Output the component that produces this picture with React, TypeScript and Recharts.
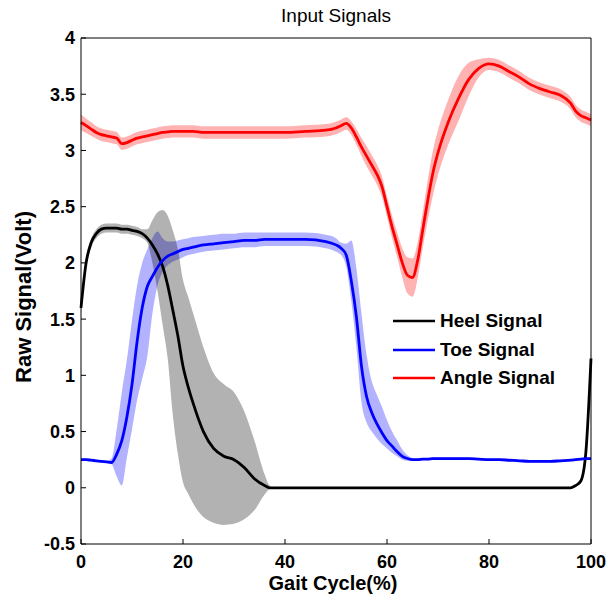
import React from "react";
import { ComposedChart, Area, Line, XAxis, YAxis, Legend } from "recharts";

// gait cycle sample points (%)
const gaitPct = [
  0, 1, 2, 3, 4, 5, 6, 7, 8, 9, 10, 11, 12, 13, 14, 15, 16, 17, 18, 19, 20, 21, 22,
  24, 26, 28, 30, 32, 34, 36,
  37, 38, 40, 44, 48, 50,
  51, 52, 53, 54, 55, 56, 57, 58, 59, 60, 61, 62, 63, 64, 65, 66, 67, 68, 69, 70,
  72, 74, 76, 78, 80, 82, 84, 86, 88, 90, 92, 94,
  96, 97, 98, 99, 100,
];

const heelMean = [
  1.6, 2.0, 2.18, 2.26, 2.3, 2.31, 2.31, 2.31, 2.3, 2.3, 2.29, 2.28, 2.26, 2.22, 2.16, 2.08, 1.97, 1.8, 1.58, 1.35, 1.08, 0.9, 0.75,
  0.5, 0.35, 0.28, 0.25, 0.18, 0.08, 0.02,
  0, 0, 0, 0, 0, 0,
  0, 0, 0, 0, 0, 0, 0, 0, 0, 0, 0, 0, 0, 0, 0, 0, 0, 0, 0, 0,
  0, 0, 0, 0, 0, 0, 0, 0, 0, 0, 0, 0,
  0, 0.02, 0.06, 0.32, 1.15,
];
const heelLo = [
  1.55, 1.95, 2.14, 2.22, 2.26, 2.27, 2.27, 2.27, 2.26, 2.26, 2.25, 2.24, 2.22, 2.18, 2.0, 1.75, 1.45, 1.15, 0.65, 0.3, 0.05, -0.05, -0.14,
  -0.26, -0.31, -0.33, -0.32, -0.28, -0.2, -0.06,
  -0.01, 0, 0, 0, 0, 0,
  0, 0, 0, 0, 0, 0, 0, 0, 0, 0, 0, 0, 0, 0, 0, 0, 0, 0, 0, 0,
  0, 0, 0, 0, 0, 0, 0, 0, 0, 0, 0, 0,
  0, 0.01, 0.04, 0.28, 1.1,
];
const heelHi = [
  1.66, 2.05, 2.22, 2.3, 2.34, 2.35, 2.35, 2.35, 2.34, 2.34, 2.33, 2.32, 2.3, 2.3, 2.38, 2.45, 2.47, 2.42, 2.29, 2.12, 1.85, 1.7, 1.55,
  1.25, 1.02, 0.92, 0.85, 0.68, 0.42, 0.12,
  0.02, 0, 0, 0, 0, 0,
  0, 0, 0, 0, 0, 0, 0, 0, 0, 0, 0, 0, 0, 0, 0, 0, 0, 0, 0, 0,
  0, 0, 0, 0, 0, 0, 0, 0, 0, 0, 0, 0,
  0, 0.03, 0.08, 0.36, 1.2,
];

const toeMean = [
  0.25, 0.25, 0.245, 0.24, 0.235, 0.23, 0.225, 0.3, 0.42, 0.63, 0.92, 1.3, 1.6, 1.79, 1.88, 1.96, 2.02, 2.06, 2.08, 2.1, 2.12, 2.13, 2.14,
  2.16, 2.17, 2.18, 2.19, 2.2, 2.2, 2.21,
  2.21, 2.21, 2.21, 2.21, 2.19, 2.16,
  2.13, 2.07, 1.84, 1.52, 1.08, 0.81, 0.67, 0.57, 0.49, 0.42, 0.37, 0.32, 0.28, 0.26, 0.25, 0.25, 0.255, 0.255, 0.26, 0.26,
  0.26, 0.26, 0.26, 0.255, 0.25, 0.25, 0.245, 0.24, 0.235, 0.235, 0.235, 0.24,
  0.245, 0.25, 0.255, 0.26, 0.26,
];
const toeLo = [
  0.24, 0.24, 0.235, 0.23, 0.225, 0.22, 0.21, 0.1, 0.02, 0.27, 0.52, 0.78, 0.97, 1.17, 1.55, 1.8, 1.92, 1.98, 2.01, 2.03, 2.05, 2.07, 2.08,
  2.1, 2.11, 2.12, 2.13, 2.14, 2.14, 2.15,
  2.15, 2.15, 2.15, 2.15, 2.13, 2.1,
  2.07, 1.97, 1.66, 1.25, 0.76, 0.58, 0.5, 0.44, 0.39, 0.35, 0.31, 0.28, 0.25, 0.24, 0.24, 0.24, 0.245, 0.245, 0.25, 0.25,
  0.25, 0.25, 0.25, 0.245, 0.24, 0.24, 0.235, 0.23, 0.225, 0.225, 0.225, 0.23,
  0.235, 0.24, 0.245, 0.25, 0.25,
];
const toeHi = [
  0.26, 0.26, 0.255, 0.25, 0.245, 0.24, 0.26, 0.52, 0.85, 1.14, 1.49, 1.8, 2.0, 2.12, 2.22, 2.28, 2.22, 2.19, 2.19, 2.2, 2.21, 2.22, 2.23,
  2.24, 2.25, 2.26, 2.26, 2.27, 2.27, 2.27,
  2.27, 2.27, 2.27, 2.27, 2.25, 2.22,
  2.18, 2.17, 2.2, 1.95, 1.55, 1.18, 0.95, 0.83, 0.72, 0.6, 0.5, 0.42, 0.34, 0.29, 0.265, 0.26, 0.265, 0.265, 0.27, 0.27,
  0.27, 0.27, 0.27, 0.265, 0.26, 0.26, 0.255, 0.25, 0.245, 0.245, 0.245, 0.25,
  0.255, 0.26, 0.265, 0.27, 0.27,
];

const angleMean = [
  3.25, 3.22, 3.19, 3.16, 3.14, 3.13, 3.12, 3.11, 3.06, 3.07, 3.09, 3.11, 3.12, 3.13, 3.14, 3.15, 3.16, 3.165, 3.17, 3.17, 3.17, 3.17, 3.17,
  3.16, 3.16, 3.16, 3.16, 3.16, 3.16, 3.16,
  3.16, 3.16, 3.16, 3.17, 3.18, 3.2,
  3.22, 3.24, 3.2, 3.12, 3.03, 2.95, 2.87, 2.79, 2.68, 2.5, 2.32, 2.16, 2.0, 1.89, 1.87, 2.02, 2.29, 2.56, 2.8, 2.98,
  3.25, 3.46, 3.63, 3.73, 3.77, 3.75, 3.7, 3.65, 3.59, 3.55, 3.52, 3.49,
  3.42, 3.35, 3.31, 3.29, 3.27,
];
// half width of the shaded band around the angle signal
const angleSpread = [
  0.07, 0.065, 0.06, 0.055, 0.055, 0.055, 0.055, 0.055, 0.055, 0.055, 0.055, 0.055, 0.055, 0.055, 0.055, 0.055, 0.055, 0.055, 0.055, 0.055, 0.055, 0.055, 0.055,
  0.055, 0.055, 0.055, 0.055, 0.055, 0.055, 0.055,
  0.055, 0.055, 0.055, 0.055, 0.055, 0.055,
  0.055, 0.055, 0.06, 0.07, 0.08, 0.09, 0.09, 0.09, 0.09, 0.09, 0.1, 0.11, 0.13, 0.16, 0.17, 0.16, 0.16, 0.18, 0.2, 0.2,
  0.2, 0.2, 0.15, 0.08, 0.055, 0.055, 0.055, 0.055, 0.055, 0.055, 0.055, 0.055,
  0.055, 0.055, 0.055, 0.055, 0.055,
];

const xTicks = [0, 20, 40, 60, 80, 100];
const yTicks = [-0.5, 0, 0.5, 1, 1.5, 2, 2.5, 3, 3.5, 4];

const legendItems = [
  { name: "Heel Signal", color: "#000000" },
  { name: "Toe Signal", color: "#0000ff" },
  { name: "Angle Signal", color: "#ff0000" },
];

const FONT = '"Liberation Sans", Arial, Helvetica, sans-serif';

const rows = gaitPct.map((x, i) => ({
  x,
  heel: heelMean[i],
  heelBand: [heelLo[i], heelHi[i]],
  toe: toeMean[i],
  toeBand: [toeLo[i], toeHi[i]],
  angle: angleMean[i],
  angleBand: [angleMean[i] - angleSpread[i], angleMean[i] + angleSpread[i]],
}));

function TitleLabel({ viewBox }: any) {
  const cx = viewBox.x + viewBox.width / 2;
  return (
    <text x={cx} y={22} textAnchor="middle" fontFamily={FONT} fontSize={19} fill="#000">
      Input Signals
    </text>
  );
}

function XLabel({ viewBox }: any) {
  const cx = viewBox.x + viewBox.width / 2 - 3;
  return (
    <text x={cx} y={viewBox.y + 46} textAnchor="middle" fontFamily={FONT} fontSize={20} fontWeight="bold" fill="#000">
      Gait Cycle(%)
    </text>
  );
}

function YLabel({ viewBox }: any) {
  const bx = 31;
  const cy = viewBox.y + viewBox.height / 2 + 6;
  return (
    <text
      x={bx}
      y={cy}
      transform={`rotate(-90 ${bx} ${cy})`}
      textAnchor="middle"
      fontFamily={FONT}
      fontSize={22}
      fontWeight="bold"
      fill="#000"
    >
      Raw Signal(Volt)
    </text>
  );
}

function SignalLegend() {
  return (
    <div style={{ fontFamily: FONT }}>
      {legendItems.map((it) => (
        <div key={it.name} style={{ display: "flex", alignItems: "center", height: 28.5 }}>
          <svg width={42} height={4} style={{ display: "block" }}>
            <line x1={0} y1={2} x2={42} y2={2} stroke={it.color} strokeWidth={2.5} />
          </svg>
          <span style={{ marginLeft: 5, fontSize: 19, fontWeight: "bold", color: "#000", lineHeight: "20px" }}>
            {it.name}
          </span>
        </div>
      ))}
    </div>
  );
}

const tickStyle = { fontSize: 18, fontWeight: "bold", fill: "#000", fontFamily: FONT };

export default function App() {
  return (
    <div style={{ position: "absolute", left: 0, top: 0, width: 608, height: 602, background: "#fff" }}>
      <ComposedChart width={608} height={602} data={rows} margin={{ top: 8, right: 0, bottom: 0, left: 0 }}>
        <XAxis
          dataKey="x"
          type="number"
          domain={[0, 100]}
          ticks={xTicks}
          height={58}
          tickSize={-5}
          tickMargin={16}
          tick={tickStyle}
          stroke="#000"
          axisLine={{ stroke: "#000" }}
          tickLine={{ stroke: "#000" }}
          label={<XLabel />}
        />
        <XAxis
          xAxisId="top"
          orientation="top"
          type="number"
          domain={[0, 100]}
          ticks={xTicks}
          height={30}
          tickSize={-5}
          tick={false}
          axisLine={{ stroke: "#000" }}
          tickLine={{ stroke: "#000" }}
          label={<TitleLabel />}
        />
        <YAxis
          type="number"
          domain={[-0.5, 4]}
          ticks={yTicks}
          width={81}
          tickSize={-5}
          tickMargin={11}
          tick={tickStyle}
          axisLine={{ stroke: "#000" }}
          tickLine={{ stroke: "#000" }}
          label={<YLabel />}
        />
        <YAxis
          yAxisId="right"
          orientation="right"
          type="number"
          domain={[-0.5, 4]}
          ticks={yTicks}
          width={17}
          tickSize={-5}
          tick={false}
          axisLine={{ stroke: "#000" }}
          tickLine={{ stroke: "#000" }}
        />

        <Area type="monotone" dataKey="toeBand" stroke="none" fill="#0000ff" fillOpacity={0.3} isAnimationActive={false} />
        <Area type="monotone" dataKey="heelBand" stroke="none" fill="#000000" fillOpacity={0.3} isAnimationActive={false} />
        <Area type="monotone" dataKey="angleBand" stroke="none" fill="#ff0000" fillOpacity={0.3} isAnimationActive={false} />

        <Line type="monotone" dataKey="heel" stroke="#000000" strokeWidth={2.8} dot={false} activeDot={false} isAnimationActive={false} />
        <Line type="monotone" dataKey="toe" stroke="#0000ff" strokeWidth={2.8} dot={false} activeDot={false} isAnimationActive={false} />
        <Line type="monotone" dataKey="angle" stroke="#ff0000" strokeWidth={2.8} dot={false} activeDot={false} isAnimationActive={false} />

        <Legend
          layout="vertical"
          align="center"
          verticalAlign="middle"
          content={() => <SignalLegend />}
          wrapperStyle={{ left: 393, top: 307, width: 200, height: 86 }}
        />
      </ComposedChart>
    </div>
  );
}
